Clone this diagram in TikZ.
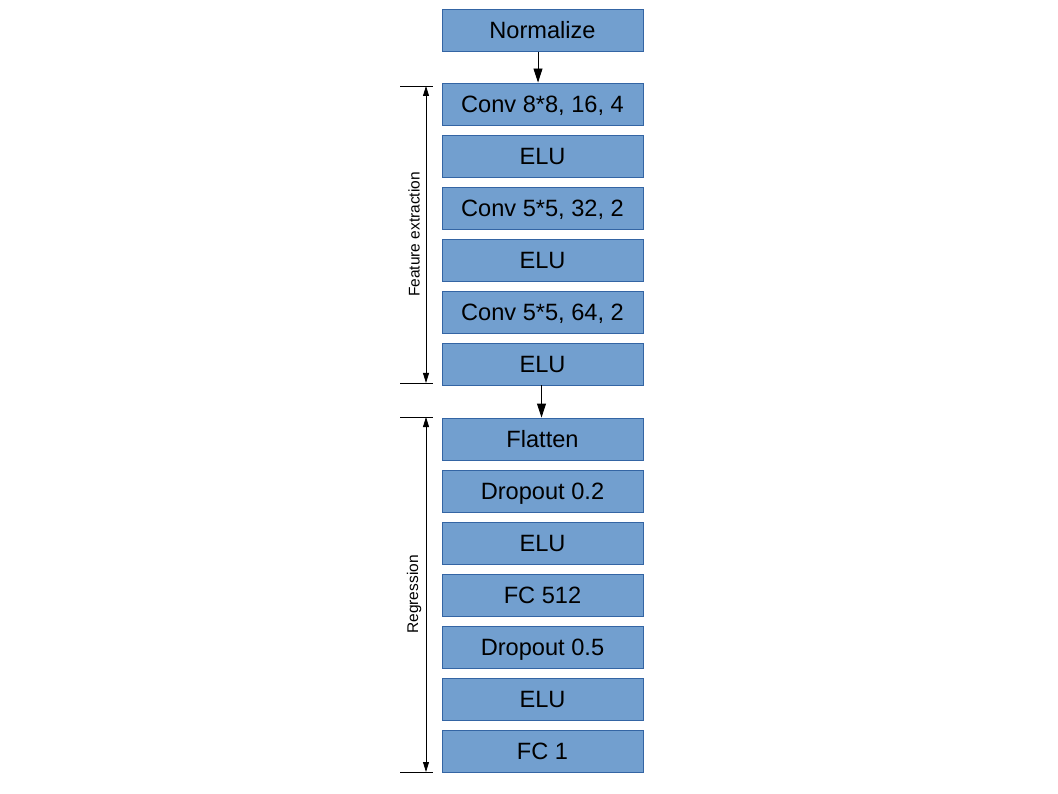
\documentclass[tikz,border=0pt]{standalone}
\usepackage{fontspec}
\setmainfont{Liberation Sans}
\usetikzlibrary{arrows.meta}
\definecolor{boxfill}{HTML}{729FCF}
\definecolor{boxline}{HTML}{3465A4}
\begin{document}
\begin{tikzpicture}[x=1pt,y=-1pt,
  layer/.style={draw=boxline, fill=boxfill, line width=0.9pt, minimum width=201pt, minimum height=42pt, inner sep=0pt, text height=16.9pt, text depth=0pt, font=\fontsize{23.6}{27}\selectfont, text=black},
  flow/.style={-{Triangle[length=14pt,width=9pt]}, line width=0.9pt},
  dim/.style={{Triangle[length=10pt,width=6pt]}-{Triangle[length=10pt,width=6pt]}, line width=0.8pt},
  tick/.style={line width=0.8pt},
  dimlabel/.style={rotate=90, font=\fontsize{15.5}{18}\selectfont, inner sep=0pt}]
\useasboundingbox (0,0) rectangle (1058,794);
\node[layer] (norm) at (542.5,30.5) {Normalize};
\node[layer] (c1) at (542.5,104) {Conv 8*8, 16, 4};
\node[layer] (e1) at (542.5,156) {ELU};
\node[layer] (c2) at (542.5,208) {Conv 5*5, 32, 2};
\node[layer] (e2) at (542.5,260) {ELU};
\node[layer] (c3) at (542.5,312) {Conv 5*5, 64, 2};
\node[layer] (e3) at (542.5,364) {ELU};
\node[layer] (fl) at (542.5,439) {Flatten};
\node[layer] (d1) at (542.5,491) {Dropout 0.2};
\node[layer] (e4) at (542.5,543) {ELU};
\node[layer] (fc5) at (542.5,595) {FC 512};
\node[layer] (d2) at (542.5,647) {Dropout 0.5};
\node[layer] (e5) at (542.5,699) {ELU};
\node[layer] (fc1) at (542.5,751) {FC 1};
\draw[flow] ([xshift=-4.5pt]norm.south) -- ([xshift=-4.5pt]c1.north);
\draw[flow] ([xshift=-1pt]e3.south) -- ([xshift=-1pt]fl.north);
% feature extraction dimension
\coordinate (fta) at (400,86); \coordinate (ftb) at (433,86);
\coordinate (fba) at (400,383); \coordinate (fbb) at (433,383);
\coordinate (ft) at (426,86); \coordinate (fb) at (426,383);
\draw[tick] (fta) -- (ftb);
\draw[tick] (fba) -- (fbb);
\draw[dim] (ft) -- (fb);
\node[dimlabel] (flab) at (414,234.5) {Feature extraction};
% regression dimension
\coordinate (rta) at (400,417); \coordinate (rtb) at (433,417);
\coordinate (rba) at (400,772); \coordinate (rbb) at (433,772);
\coordinate (rt) at (426,417); \coordinate (rb) at (426,772);
\draw[tick] (rta) -- (rtb);
\draw[tick] (rba) -- (rbb);
\draw[dim] (rt) -- (rb);
\node[dimlabel] (rlab) at (414,594.5) {Regression};
\end{tikzpicture}
\end{document}
